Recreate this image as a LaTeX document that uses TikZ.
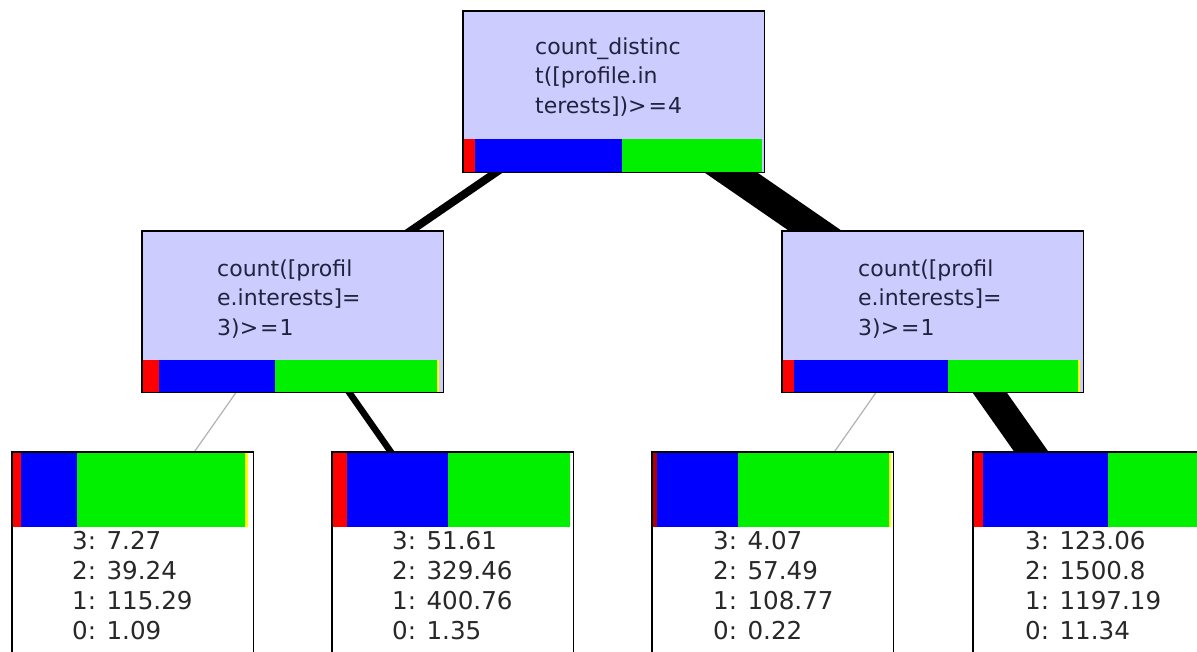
\documentclass[tikz,border=0pt]{standalone}
\usepackage{fontspec}
\setmainfont{DejaVu Sans}
\usetikzlibrary{backgrounds}
\definecolor{lav}{RGB}{204,204,255}
\definecolor{cred}{RGB}{255,0,0}
\definecolor{cblue}{RGB}{0,0,255}
\definecolor{cgreen}{RGB}{0,240,0}
\definecolor{cyellow}{RGB}{255,255,0}
\definecolor{innertext}{RGB}{34,34,60}
\definecolor{leaftext}{RGB}{40,40,40}
\begin{document}
\begin{tikzpicture}[x=1pt,y=-1pt,
  innerbox/.style={fill=lav,anchor=north west,inner sep=0pt,minimum width=301pt,minimum height=161pt},
  leafbox/.style={fill=white,anchor=north west,inner sep=0pt,minimum width=241pt,minimum height=210pt},
  border/.style={draw=black,line width=1.3pt},
  innerlabel/.style={anchor=base west,inner sep=0pt,align=left,text=innertext,font=\fontsize{22}{29.5}\selectfont},
  leaflabel/.style={anchor=base west,inner sep=0pt,align=left,text=leaftext,font=\fontsize{24.6}{29.7}\selectfont},
  edge/.style={draw=black,line cap=butt},
  thinedge/.style={draw=black!30,line width=1.2pt}]
\useasboundingbox (0,0) rectangle (1197,651);
% boxes
\node[innerbox] (root) at (463,11) {};
\node[innerbox] (ml) at (142,231) {};
\node[innerbox] (mr) at (782,231) {};
\node[leafbox] (l1) at (12,452) {};
\node[leafbox] (l2) at (332,452) {};
\node[leafbox] (l3) at (652,452) {};
\node[leafbox] (l4) at (973,452) {};
% connector targets inside leaves
\coordinate (t1) at (132.5,540);
\coordinate (t2) at (452.5,540);
\coordinate (t3) at (772.5,540);
\coordinate (t4) at (1093.5,540);
\begin{pgfonlayer}{background}
  \fill[white] (0,0) rectangle (1197,651);
  \draw[edge,line width=8pt] (root.center) -- (ml.center);
  \draw[edge,line width=30pt] (root.center) -- (mr.center);
  \draw[thinedge] (ml.center) -- (t1);
  \draw[edge,line width=6.5pt] (ml.center) -- (t2);
  \draw[thinedge] (mr.center) -- (t3);
  \draw[edge,line width=28pt] (mr.center) -- (t4);
\end{pgfonlayer}
% bars root
\fill[cred] (463,139) rectangle (475,172);
\fill[cblue] (475,139) rectangle (622,172);
\fill[cgreen] (622,139) rectangle (762,172);
% bars ml
\fill[cred] (142,360) rectangle (159,392);
\fill[cblue] (159,360) rectangle (275,392);
\fill[cgreen] (275,360) rectangle (437,392);
\fill[cyellow] (437,360) rectangle (439,392);
% bars mr
\fill[cred] (782,360) rectangle (794,392);
\fill[cblue] (794,360) rectangle (948,392);
\fill[cgreen] (948,360) rectangle (1078,392);
\fill[cyellow] (1078,360) rectangle (1080,392);
% bars l1
\fill[cred] (12,452) rectangle (21,527);
\fill[cblue] (21,452) rectangle (77,527);
\fill[cgreen] (77,452) rectangle (245,527);
\fill[cyellow] (245,452) rectangle (248,527);
% bars l2
\fill[cred] (332,452) rectangle (347,527);
\fill[cblue] (347,452) rectangle (448,527);
\fill[cgreen] (448,452) rectangle (570,527);
% bars l3
\fill[cred!70!black] (652,452) rectangle (657,527);
\fill[cblue] (657,452) rectangle (738,527);
\fill[cgreen] (738,452) rectangle (889,527);
\fill[cyellow] (889,452) rectangle (891,527);
% bars l4
\fill[cred] (973,452) rectangle (983,527);
\fill[cblue] (983,452) rectangle (1108,527);
\fill[cgreen] (1108,452) rectangle (1214,527);
% borders
\foreach \n in {root,ml,mr,l1,l2,l3,l4}
  \draw[border] (\n.north west) rectangle (\n.south east);
% labels (base anchor = baseline of last line)
\node[innerlabel] (rootlab) at (535,113) {count\_distinc\\t([profile.in\\terests])>\kern2pt=\kern1pt4};
\node[innerlabel] (mllab) at (217,335) {count([profil\\e.interests]=\\3)>\kern2pt=\kern1pt1};
\node[innerlabel] (mrlab) at (858,335) {count([profil\\e.interests]=\\3)>\kern2pt=\kern1pt1};
\node[leaflabel] (l1lab) at (72,639) {3: 7.27\\2: 39.24\\1: 115.29\\0: 1.09};
\node[leaflabel] (l2lab) at (392,639) {3: 51.61\\2: 329.46\\1: 400.76\\0: 1.35};
\node[leaflabel] (l3lab) at (713,639) {3: 4.07\\2: 57.49\\1: 108.77\\0: 0.22};
\node[leaflabel] (l4lab) at (1025,639) {3: 123.06\\2: 1500.8\\1: 1197.19\\0: 11.34};
\end{tikzpicture}
\end{document}
